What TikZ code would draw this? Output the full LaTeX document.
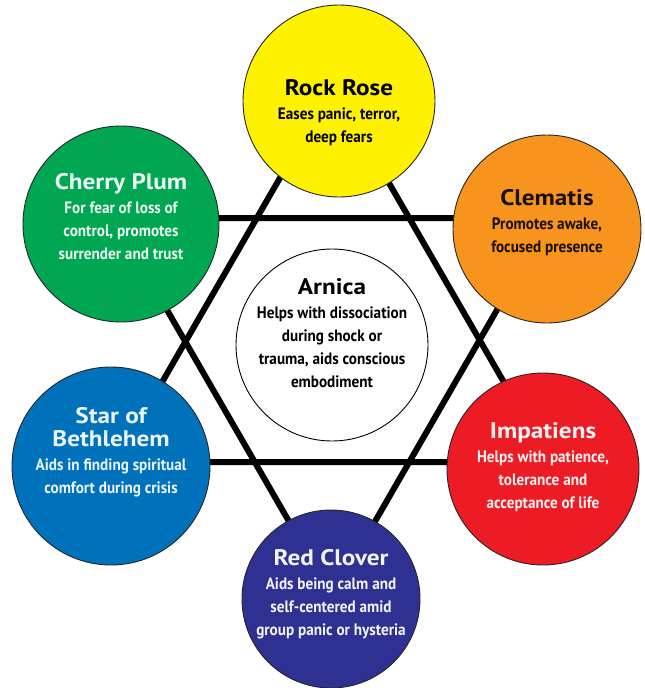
\documentclass[tikz,border=0pt]{standalone}
\usepackage{fontspec}
\setmainfont{PT Sans}
\newfontfamily\DFont[FakeStretch=0.92]{PT Sans}
\newfontfamily\TFont[FakeStretch=1.12]{PT Sans}
\definecolor{cYel}{RGB}{255,242,0}
\definecolor{cOra}{RGB}{247,148,29}
\definecolor{cRed}{RGB}{237,28,36}
\definecolor{cNav}{RGB}{46,49,146}
\definecolor{cBlu}{RGB}{0,114,188}
\definecolor{cGre}{RGB}{0,166,81}
\newcommand{\TT}[1]{{\TFont\bfseries\fontsize{22.5}{26}\selectfont #1}}
\tikzset{
    CC/.style ={circle, minimum size=#1, inner sep=0pt, draw=black!85, line width=0.9pt},
    TX/.style ={align=center, inner sep=0pt, font=\DFont\bfseries\fontsize{16.5}{23}\selectfont},
    HX/.style ={line width=6pt, black}}

\begin{document}
\begin{tikzpicture}[x=1pt,y=-1pt]
        \useasboundingbox (0,0) rectangle (645,688);
        % star points
        \coordinate (U1) at (333,86);
        \coordinate (U2) at (116,462);
        \coordinate (U3) at (550,462);
        \coordinate (D1) at (114,218);
        \coordinate (D2) at (550,218);
        \coordinate (D3) at (332,596);
        \draw[HX] (U1) -- (U2) -- (U3) -- cycle;
        \draw[HX] (D1) -- (D2) -- (D3) -- cycle;
        % circles
        \node[CC=192pt, fill=cYel] (RR) at (339,101){};
        \node[CC=188pt, fill=cOra] (CL) at (547,229){};
        \node[CC=192pt, fill=cRed] (IM) at (543,469){};
        \node[CC=178pt, fill=cNav] (RC) at (331,599){};
        \node[CC=198pt, fill=cBlu] (SB) at (111,466){};
        \node[CC=196pt, fill=cGre] (CP) at (121,224){};
        \node[CC=192pt, fill=white, draw=black] (AR) at (332,345){};
        % texts
        \node[TX, text=black] (RRt) at (339,113){\TT{Rock Rose}\\[1pt]Eases panic, terror,\\deep fears};
        \node[TX, text=black!90!cOra] (CLt) at (547,223){\TT{Clematis}\\[1pt]Promotes awake,\\focused presence};
        \node[TX, text=cRed!6!white] (IMt) at (543,467){\TT{Impatiens}\\[1pt]Helps with patience,\\tolerance and\\acceptance of life};
        \node[TX, text=cNav!6!white] (RCt) at (331,594){\TT{Red Clover}\\[1pt]Aids being calm and\\self-centered amid\\group panic or hysteria};
        \node[TX, text=cBlu!8!white] (SBt) at (111,452){\TT{Star of}\\\TT{Bethlehem}\\[1pt]Aids in finding spiritual\\comfort during crisis};
        \node[TX, text=cGre!8!white] (CPt) at (121,217){\TT{Cherry Plum}\\[1pt]For fear of loss of\\control, promotes\\surrender and trust};
        \node[TX, text=black] (ARt) at (332,333){\TT{Arnica}\\[1pt]Helps with dissociation\\during shock or\\trauma, aids conscious\\embodiment};
    \end{tikzpicture}
\end{document}
